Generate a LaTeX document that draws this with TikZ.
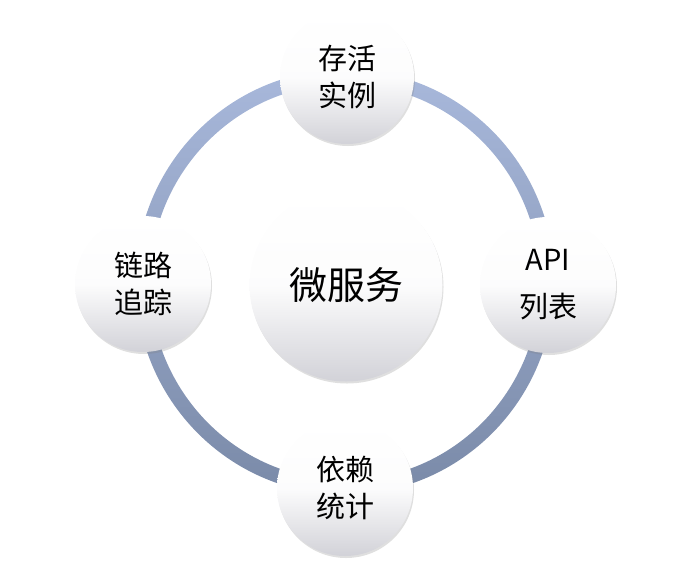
\documentclass[tikz,border=0pt]{standalone}
\usepackage{fontspec}
\usepackage{tikz}
\usetikzlibrary{shadows}
\newfontfamily\cjk{Noto Sans CJK SC}
\definecolor{RingTop}{HTML}{A8B8DB}
\definecolor{RingBot}{HTML}{7A8AA8}
\definecolor{BallLo}{HTML}{D2D2D8}

\tikzset{
  ball/.style={circle, minimum size=#1, inner sep=0pt, align=center,
    top color=white, bottom color=BallLo, middle color=white!94!BallLo,
    drop shadow={shadow xshift=1pt, shadow yshift=-2pt, opacity=0.25, fill=gray}},
}

\begin{document}
\begin{tikzpicture}[x=1pt,y=-1pt, font=\cjk]
\useasboundingbox (0,0) rectangle (687,571);
% ring
\shade[even odd rule, top color=RingTop, bottom color=RingBot]
  (345,282) ellipse [x radius=209.5, y radius=212.5]
  (345,282) ellipse [x radius=195, y radius=198];
% center
\node[ball=193pt, font=\cjk\fontsize{38}{42}\selectfont] (core) at (346,285) {微服务};
% satellites
\node[ball=134pt, font=\cjk\fontsize{29}{37}\selectfont] (alive) at (347,77) {存活\\实例};
\node[ball=136pt, font=\cjk\fontsize{29}{37}\selectfont] (trace) at (143,284) {链路\\追踪};
\node[ball=136pt, font=\cjk\fontsize{29}{47}\selectfont] (api) at (548,285) {API\\列表};
\node[ball=136pt, font=\cjk\fontsize{29}{37}\selectfont] (dep) at (345,488) {依赖\\统计};
\end{tikzpicture}
\end{document}
